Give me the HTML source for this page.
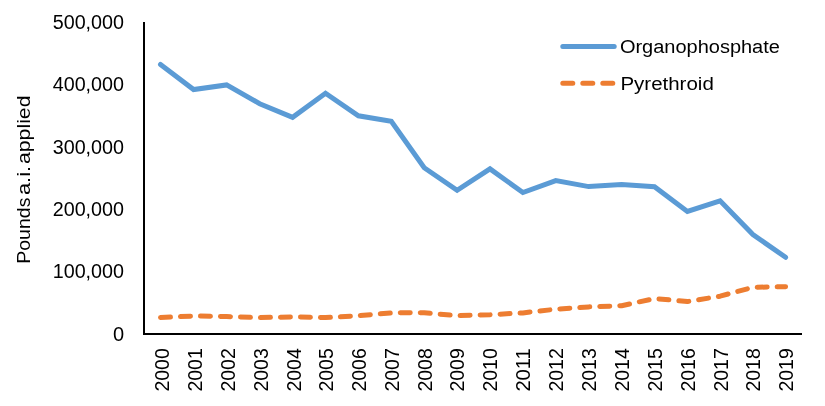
<!DOCTYPE html>
<html lang="en">
<head>
<meta charset="utf-8">
<title>Organophosphate and pyrethroid use</title>
<style>
html,body{margin:0;padding:0;background:#fff;}
body{width:825px;height:406px;overflow:hidden;}
svg{display:block;}
svg text{font-family:"Liberation Sans",sans-serif;font-size:20px;fill:#000;}
</style>
</head>
<body>
<svg width="825" height="406" viewBox="0 0 825 406">
<rect width="825" height="406" fill="#fff"/>
<g id="ylabels">
<text x="124.0" y="28.6" text-anchor="end" textLength="71.3" lengthAdjust="spacingAndGlyphs">500,000</text>
<text x="124.0" y="90.8" text-anchor="end" textLength="71.3" lengthAdjust="spacingAndGlyphs">400,000</text>
<text x="124.0" y="153.9" text-anchor="end" textLength="71.3" lengthAdjust="spacingAndGlyphs">300,000</text>
<text x="124.0" y="216.1" text-anchor="end" textLength="71.3" lengthAdjust="spacingAndGlyphs">200,000</text>
<text x="124.0" y="277.9" text-anchor="end" textLength="71.3" lengthAdjust="spacingAndGlyphs">100,000</text>
<text x="124.0" y="340.6" text-anchor="end">0</text>
</g>
<g id="xlabels">
<text transform="translate(169.3 391.6) rotate(-90)" textLength="43.4" lengthAdjust="spacingAndGlyphs">2000</text>
<text transform="translate(202.1 391.6) rotate(-90)" textLength="43.4" lengthAdjust="spacingAndGlyphs">2001</text>
<text transform="translate(234.9 391.6) rotate(-90)" textLength="43.4" lengthAdjust="spacingAndGlyphs">2002</text>
<text transform="translate(267.7 391.6) rotate(-90)" textLength="43.4" lengthAdjust="spacingAndGlyphs">2003</text>
<text transform="translate(300.5 391.6) rotate(-90)" textLength="43.4" lengthAdjust="spacingAndGlyphs">2004</text>
<text transform="translate(333.2 391.6) rotate(-90)" textLength="43.4" lengthAdjust="spacingAndGlyphs">2005</text>
<text transform="translate(366.0 391.6) rotate(-90)" textLength="43.4" lengthAdjust="spacingAndGlyphs">2006</text>
<text transform="translate(398.8 391.6) rotate(-90)" textLength="43.4" lengthAdjust="spacingAndGlyphs">2007</text>
<text transform="translate(431.6 391.6) rotate(-90)" textLength="43.4" lengthAdjust="spacingAndGlyphs">2008</text>
<text transform="translate(464.4 391.6) rotate(-90)" textLength="43.4" lengthAdjust="spacingAndGlyphs">2009</text>
<text transform="translate(497.3 391.6) rotate(-90)" textLength="43.4" lengthAdjust="spacingAndGlyphs">2010</text>
<text transform="translate(530.2 391.6) rotate(-90)" textLength="43.4" lengthAdjust="spacingAndGlyphs">2011</text>
<text transform="translate(563.1 391.6) rotate(-90)" textLength="43.4" lengthAdjust="spacingAndGlyphs">2012</text>
<text transform="translate(596.0 391.6) rotate(-90)" textLength="43.4" lengthAdjust="spacingAndGlyphs">2013</text>
<text transform="translate(628.9 391.6) rotate(-90)" textLength="43.4" lengthAdjust="spacingAndGlyphs">2014</text>
<text transform="translate(661.8 391.6) rotate(-90)" textLength="43.4" lengthAdjust="spacingAndGlyphs">2015</text>
<text transform="translate(694.6 391.6) rotate(-90)" textLength="43.4" lengthAdjust="spacingAndGlyphs">2016</text>
<text transform="translate(727.5 391.6) rotate(-90)" textLength="43.4" lengthAdjust="spacingAndGlyphs">2017</text>
<text transform="translate(760.4 391.6) rotate(-90)" textLength="43.4" lengthAdjust="spacingAndGlyphs">2018</text>
<text transform="translate(793.3 391.6) rotate(-90)" textLength="43.4" lengthAdjust="spacingAndGlyphs">2019</text>
</g>
<text id="ytitle" transform="translate(30.2 263.8) rotate(-90)" style="font-size:18.8px"><tspan x="0" textLength="66.2" lengthAdjust="spacingAndGlyphs">Pounds</tspan> <tspan x="68.7" textLength="29.2" lengthAdjust="spacingAndGlyphs">a.i.</tspan> <tspan x="99.8" textLength="68.5" lengthAdjust="spacingAndGlyphs">applied</tspan></text>
<polyline points="160.5,317.5 193.6,316.0 226.6,316.5 259.7,317.6 292.6,316.9 325.5,317.6 358.4,315.7 391.3,312.9 424.2,312.7 457.1,315.7 490.0,314.7 522.9,312.9 555.8,309.2 588.7,306.9 621.6,305.7 654.5,298.5 687.4,301.6 720.1,296.2 752.9,287.3 785.6,286.7" fill="none" stroke="#ED7D31" stroke-width="5" stroke-linecap="round" stroke-linejoin="round" stroke-dasharray="10 10"/>
<polyline points="160.5,64.5 193.6,89.6 226.6,84.9 259.7,103.7 292.6,117.3 325.5,93.3 358.4,115.8 391.3,121.4 424.2,167.8 457.1,190.3 490.0,168.9 522.9,192.5 555.8,180.6 588.7,186.6 621.6,184.6 654.5,186.7 687.4,211.5 720.1,200.8 752.9,234.5 785.6,257.3" fill="none" stroke="#5B9BD5" stroke-width="5" stroke-linecap="round" stroke-linejoin="miter" stroke-miterlimit="10"/>
<path d="M144 22 V334 H802" fill="none" stroke="#000" stroke-width="2" stroke-linecap="butt" stroke-linejoin="miter"/>
<line x1="562.8" y1="46.6" x2="614.2" y2="46.6" stroke="#5B9BD5" stroke-width="5" stroke-linecap="round"/>
<line x1="562.8" y1="83.3" x2="613.9" y2="83.3" stroke="#ED7D31" stroke-width="5" stroke-linecap="round" stroke-dasharray="10 10"/>
<text x="619.9" y="52.8" style="font-size:18.8px" textLength="160" lengthAdjust="spacingAndGlyphs">Organophosphate</text>
<text x="620.4" y="89.5" style="font-size:18.8px" textLength="93.4" lengthAdjust="spacingAndGlyphs">Pyrethroid</text>
</svg>
</body>
</html>
